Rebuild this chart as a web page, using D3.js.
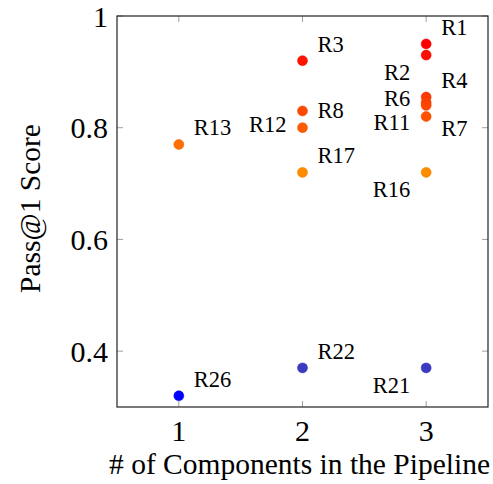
<!DOCTYPE html>
<html>
<head>
<meta charset="utf-8">
<script src="https://cdn.jsdelivr.net/npm/d3@7"></script>
<style>
  body { margin: 0; background: #fff; }
</style>
</head>
<body>
<div id="chart"></div>
<script>
// data
var names      = ["R1", "R2", "R3", "R4", "R6", "R11", "R7", "R8", "R12", "R13", "R16", "R17", "R21", "R22", "R26"];
var components = [3, 3, 2, 3, 3, 3, 3, 2, 2, 1, 3, 2, 3, 2, 1];
var scores     = [0.95, 0.93, 0.92, 0.855, 0.845, 0.84, 0.82, 0.83, 0.80, 0.77, 0.72, 0.72, 0.37, 0.37, 0.32];
// where each label sits relative to its point
var labelSide  = ["ne", "sw", "ne", "ne", "w", "sw", "se", "e", "w", "ne", "sw", "ne", "sw", "ne", "ne"];
var xTicks = [1, 2, 3];
var yTicks = [0.4, 0.6, 0.8, 1];

var serif = "'Liberation Serif', 'DejaVu Serif', serif";

var margin = {top: 16, right: 5, bottom: 77, left: 117},
    width = 493 - margin.left - margin.right,
    height = 484 - margin.top - margin.bottom;

var svg = d3.select("#chart")
    .append("svg")
    .attr("width", 493)
    .attr("height", 484)
    .attr("font-family", serif)
    .append("g")
    .attr("transform", "translate(" + margin.left + "," + margin.top + ")");

var x = d3.scaleLinear().domain([0.5, 3.5]).range([0, width]);
var y = d3.scaleLinear().domain([0.3, 1]).range([height, 0]);

// blue -> orange -> red, by score
var color = d3.scaleLinear()
    .domain([0.32, 0.37, 0.72, 0.95])
    .range(["#0000ff", "#3b3bc2", "#ff8c00", "#ff0000"]);

// ticks, inward on all four sides
var tickLen = 6;
var tickColor = "#a0a0a0";
xTicks.forEach(function(t) {
    svg.append("line").attr("x1", x(t)).attr("x2", x(t))
        .attr("y1", height).attr("y2", height - tickLen)
        .attr("stroke", tickColor);
    svg.append("line").attr("x1", x(t)).attr("x2", x(t))
        .attr("y1", 0).attr("y2", tickLen)
        .attr("stroke", tickColor);
    svg.append("text")
        .attr("x", x(t)).attr("y", height + 23)
        .attr("dy", "0.35em")
        .attr("font-size", 30)
        .style("text-anchor", "middle")
        .text(t);
});
yTicks.forEach(function(t) {
    svg.append("line").attr("x1", 0).attr("x2", tickLen)
        .attr("y1", y(t)).attr("y2", y(t))
        .attr("stroke", tickColor);
    svg.append("line").attr("x1", width).attr("x2", width - tickLen)
        .attr("y1", y(t)).attr("y2", y(t))
        .attr("stroke", tickColor);
    svg.append("text")
        .attr("x", -9).attr("y", y(t))
        .attr("dy", "0.35em")
        .attr("font-size", 30)
        .style("text-anchor", "end")
        .text(d3.format("~g")(t));
});

// frame
svg.append("rect")
    .attr("width", width).attr("height", height)
    .attr("fill", "none").attr("stroke", "#222").attr("stroke-width", 1.2);

var pts = names.map(function(n, i) {
    return {name: n, c: components[i], s: scores[i], side: labelSide[i]};
});

svg.selectAll("circle")
    .data(pts)
    .enter()
    .append("circle")
    .attr("cx", function(d) { return x(d.c); })
    .attr("cy", function(d) { return y(d.s); })
    .attr("r", 5)
    .attr("fill", function(d) { return color(d.s); })
    .attr("stroke", function(d) { return d3.color(color(d.s)).darker(0.3); })
    .attr("stroke-width", 0.5);

var off = {
    ne: [15, -17, "start"], se: [15, 12, "start"], e: [15, -1, "start"],
    nw: [-16, -17, "end"], sw: [-16, 17, "end"], w: [-16, -4, "end"]
};
svg.selectAll(".lbl")
    .data(pts)
    .enter()
    .append("text")
    .attr("class", "lbl")
    .attr("x", function(d) { return x(d.c) + off[d.side][0]; })
    .attr("y", function(d) { return y(d.s) + off[d.side][1]; })
    .attr("dy", "0.35em")
    .attr("font-size", 22.5)
    .style("text-anchor", function(d) { return off[d.side][2]; })
    .text(function(d) { return d.name; });

// axis titles
svg.append("text")
    .attr("x", width / 2 - 3)
    .attr("y", height + 67)
    .attr("font-size", 29.5)
    .style("text-anchor", "middle")
    .text("# of Components in the Pipeline");

svg.append("text")
    .attr("transform", "rotate(-90)")
    .attr("x", -height / 2 + 3)
    .attr("y", -77)
    .attr("font-size", 29.5)
    .style("text-anchor", "middle")
    .text("Pass@1 Score");
</script>
</body>
</html>
